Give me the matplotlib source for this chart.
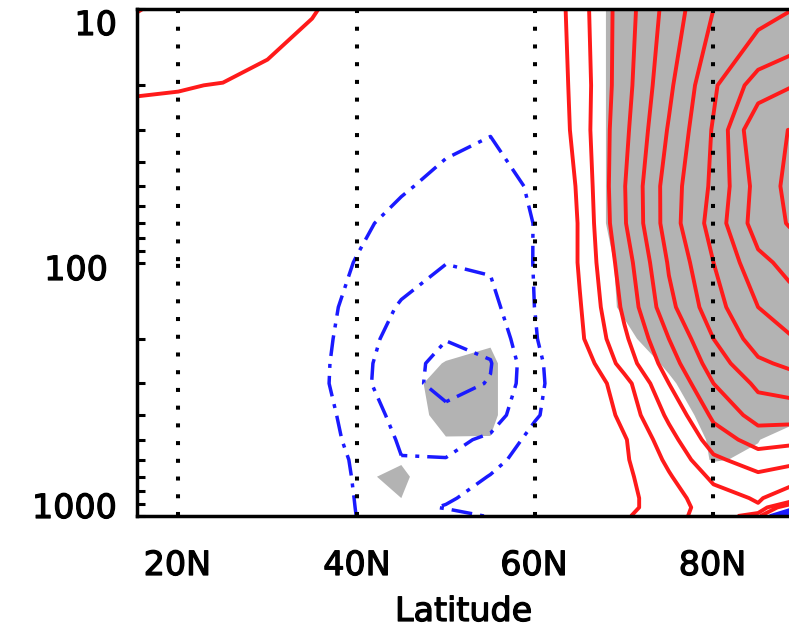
import numpy as np
import matplotlib.pyplot as plt
import matplotlib.patheffects as pe

# grid: latitude (deg N) and pressure (hPa)
lats = [15, 20, 25, 30, 35, 40, 45, 50, 55, 60, 65, 70, 75, 80, 85, 90]
plevs = [1000, 925, 850, 700, 600, 500, 400, 300, 250, 200, 150, 100, 70, 50, 30, 20, 10]

# anomaly field, one row per pressure level (same order as plevs)
anom = [
    [0.10, 0.10, 0.05, 0.00, -0.20, -1.01, -1.30, -1.30, -0.95, -0.40, 0.20, 0.90, 1.55, 2.60, 1.50, -8.0],
    [0.10, 0.10, 0.05, 0.00, -0.20, -1.03, -1.20, -0.95, -0.60, -0.30, 0.10, 0.75, 1.50, 2.50, 2.90, -1.5],
    [0.10, 0.10, 0.05, 0.00, -0.20, -1.05, -1.40, -1.10, -0.70, -0.30, 0.00, 0.70, 1.60, 2.60, 3.10, 2.20],
    [0.10, 0.10, 0.05, 0.00, -0.25, -1.10, -1.70, -1.60, -0.95, -0.40, -0.10, 0.75, 1.90, 3.20, 3.80, 3.20],
    [0.10, 0.10, 0.05, 0.00, -0.30, -1.15, -1.97, -1.96, -1.30, -0.50, -0.20, 0.85, 2.20, 3.80, 4.50, 4.20],
    [0.10, 0.10, 0.05, -0.05, -0.40, -1.30, -2.10, -2.30, -1.80, -0.65, -0.30, 0.90, 2.60, 4.50, 5.40, 5.20],
    [0.10, 0.10, 0.05, -0.10, -0.45, -1.45, -2.30, -2.75, -2.50, -1.10, -0.20, 1.30, 3.20, 5.20, 6.40, 6.40],
    [0.15, 0.10, 0.05, -0.10, -0.60, -1.65, -2.70, -3.30, -2.95, -1.30, 0.06, 1.60, 4.00, 6.00, 7.20, 7.60],
    [0.20, 0.15, 0.10, -0.05, -0.60, -1.60, -2.70, -3.25, -3.05, -1.30, 0.30, 2.40, 4.50, 6.50, 7.80, 8.40],
    [0.25, 0.20, 0.10, -0.05, -0.60, -1.45, -2.50, -2.98, -2.75, -1.10, 0.80, 2.80, 5.00, 7.00, 8.50, 9.10],
    [0.30, 0.25, 0.15, 0.00, -0.50, -1.35, -2.10, -2.60, -2.30, -0.98, 0.92, 3.20, 5.70, 7.60, 9.00, 9.80],
    [0.35, 0.30, 0.20, 0.00, -0.40, -1.05, -1.60, -1.98, -1.90, -0.95, 1.10, 3.50, 6.10, 8.00, 9.70, 10.6],
    [0.45, 0.40, 0.30, 0.15, -0.20, -0.80, -1.30, -1.55, -1.60, -0.97, 1.10, 3.90, 6.50, 8.40, 10.5, 11.3],
    [0.55, 0.50, 0.40, 0.25, 0.00, -0.50, -0.90, -1.25, -1.30, -0.90, 1.20, 3.95, 6.50, 8.20, 10.4, 11.6],
    [0.75, 0.70, 0.60, 0.45, 0.25, 0.00, -0.40, -0.80, -0.97, -0.60, 1.45, 3.75, 6.10, 8.10, 10.9, 11.05],
    [1.07, 1.04, 0.97, 0.75, 0.50, 0.30, 0.10, -0.10, -0.30, -0.30, 1.45, 3.60, 5.80, 7.85, 9.50, 10.1],
    [2.05, 1.80, 1.60, 1.35, 1.05, 0.70, 0.40, 0.20, 0.00, -0.30, 1.60, 3.50, 5.40, 7.00, 7.60, 8.10],
]

# significance (shaded where > 0.5)
signif = [
    [0, 0, 0, 0, 0, 0.0, 0.0, 0.0, 0.0, 0, 0, 0.0, 0.0, 0.0, 0.0, 0.0],
    [0, 0, 0, 0, 0, 0.0, 0.0, 0.0, 0.0, 0, 0, 0.0, 0.0, 0.0, 0.0, 0.0],
    [0, 0, 0, 0, 0, 0.2, 0.5, 0.0, 0.0, 0, 0, 0.0, 0.0, 0.0, 0.0, 0.0],
    [0, 0, 0, 0, 0, 0.4, 0.62, 0.0, 0.0, 0, 0, 0.0, 0.0, 0.1, 0.0, 0.0],
    [0, 0, 0, 0, 0, 0.1, 0.45, 0.0, 0.0, 0, 0, 0.0, 0.0, 0.55, 0.4, 0.0],
    [0, 0, 0, 0, 0, 0.0, 0.0, 0.45, 0.48, 0, 0, 0.0, 0.0, 0.6, 0.52, 0.1],
    [0, 0, 0, 0, 0, 0.0, 0.0, 0.8, 0.6, 0, 0, 0.0, 0.1, 0.8, 1.0, 0.6],
    [0, 0, 0, 0, 0, 0.0, 0.0, 1.0, 0.6, 0, 0, 0.0, 0.4, 1.0, 1.0, 1.0],
    [0, 0, 0, 0, 0, 0.0, 0.0, 0.55, 0.6, 0, 0, 0.1, 0.6, 1.0, 1.0, 1.0],
    [0, 0, 0, 0, 0, 0.0, 0.0, 0.1, 0.45, 0, 0, 0.3, 1.0, 1.0, 1.0, 1.0],
    [0, 0, 0, 0, 0, 0.0, 0.0, 0.0, 0.0, 0, 0, 0.6, 1.0, 1.0, 1.0, 1.0],
    [0, 0, 0, 0, 0, 0.0, 0.0, 0.0, 0.0, 0, 0, 0.65, 1.0, 1.0, 1.0, 1.0],
    [0, 0, 0, 0, 0, 0.0, 0.0, 0.0, 0.0, 0, 0, 0.85, 1.0, 1.0, 1.0, 1.0],
    [0, 0, 0, 0, 0, 0.0, 0.0, 0.0, 0.0, 0, 0, 0.85, 1.0, 1.0, 1.0, 1.0],
    [0, 0, 0, 0, 0, 0.0, 0.0, 0.0, 0.0, 0, 0, 0.85, 1.0, 1.0, 1.0, 1.0],
    [0, 0, 0, 0, 0, 0.0, 0.0, 0.0, 0.0, 0, 0, 0.85, 1.0, 1.0, 1.0, 1.0],
    [0, 0, 0, 0, 0, 0.0, 0.0, 0.0, 0.0, 0, 0, 0.85, 1.0, 1.0, 1.0, 1.0],
]

pos_levels = [1, 2, 3, 4, 5, 6, 7, 8, 9, 10, 11, 12]
neg_levels = [-7, -6, -5, -4, -3, -2, -1]
guide_lats = [20, 40, 60, 80]
xtick_labels = ['20N', '40N', '60N', '80N']
ytick_labels = ['10', '100', '1000']

W, H = 789, 629
RED = '#ff1a1a'
BLUE = '#1a1aff'
GRAY = '#b3b3b3'


def px(x, y):
    # pixel position -> figure fraction
    return x / W, 1 - y / H


fig = plt.figure(figsize=(W / 100, H / 100), dpi=100)
ax = fig.add_axes([137 / W, 113 / H, 665.7 / W, 507 / H])

lon2d, p2d = np.meshgrid(lats, plevs)
field = np.array(anom)
sig = np.array(signif)

ax.contourf(lon2d, p2d, sig, levels=[0.5, 10], colors=[GRAY], antialiased=True)

ax.contour(lon2d, p2d, field, levels=pos_levels, colors=RED,
           linewidths=2.8, linestyles='solid')
cn = ax.contour(lon2d, p2d, field, levels=neg_levels, colors=BLUE,
                linewidths=2.5)
cn.set_linestyle((0, (6, 2.3, 1.15, 2.3)))

# dotted latitude guides, drawn in two pieces each
for lat in guide_lats:
    for seg in ([1000, 100], [10, 100]):
        ax.plot([lat, lat], seg, color='black', lw=2.9,
                linestyle=(0, (1, 3.4)), dash_capstyle='butt')

ax.set_yscale('log')
ax.set_ylim(1000, 10)
ax.set_xlim(15.37, 90)

for side in ('left', 'bottom', 'top', 'right'):
    ax.spines[side].set_linewidth(2.5)

ax.set_yticks([10, 100, 1000])
ax.set_yticks([20, 30, 40, 50, 60, 70, 80, 90,
               200, 300, 400, 500, 600, 700, 800, 900], minor=True)
ax.tick_params(axis='y', which='both', direction='in', length=5.8,
               width=2.2, labelleft=False, right=False)
ax.set_xticks([])

# slightly heavier than regular weight
heavy = [pe.withStroke(linewidth=0.9, foreground='black')]
font = dict(family='DejaVu Sans', size=24, color='black', path_effects=heavy)
for lab, (x, y) in zip(ytick_labels, [(117, 35), (108, 280), (117, 518)]):
    fig.text(*px(x, y), lab, ha='right', va='baseline', **font)
for lab, x in zip(xtick_labels, [177.5, 357, 534, 712.5]):
    fig.text(*px(x, 575), lab, ha='center', va='baseline', **font)
fig.text(*px(463.5, 621), 'Latitude', ha='center', va='baseline', **font)

fig.savefig('out.png', dpi=100)
